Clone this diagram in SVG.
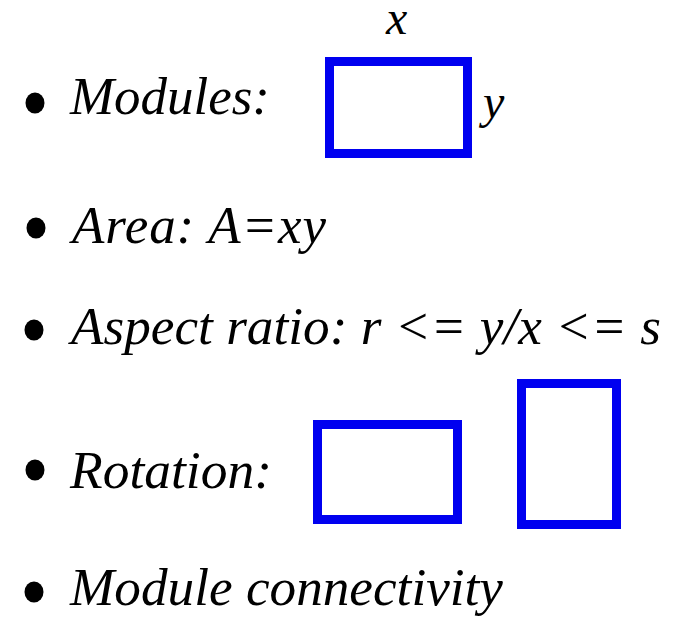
<svg xmlns="http://www.w3.org/2000/svg" width="675" height="620" viewBox="0 0 675 620">
<style>
.t{font-family:"Liberation Serif","Times New Roman",serif;font-style:italic;font-size:53px;fill:#000}
.l{font-family:"Liberation Serif","Times New Roman",serif;font-style:italic;font-size:48px;fill:#000}
.b{fill:#000}
.m{fill:#fff;stroke:#0000f0;stroke-width:9}
</style>
<rect width="675" height="620" fill="#fff"/>
<g id="item-modules">
<ellipse class="b" cx="35" cy="103" rx="9.5" ry="10.5"/>
<text class="t" x="70" y="114" textLength="200" lengthAdjust="spacingAndGlyphs">Modules:</text>
<rect id="module" class="m" x="329.5" y="61.5" width="138" height="92"/>
<text class="l" x="386" y="34">x</text>
<text class="l" x="483" y="118">y</text>
</g>
<g id="item-area">
<ellipse class="b" cx="36" cy="228" rx="9.5" ry="10.5"/>
<text class="t" x="72" y="243" textLength="254" lengthAdjust="spacing">Area: A=xy</text>
</g>
<g id="item-aspect">
<ellipse class="b" cx="34" cy="330" rx="9.5" ry="10.5"/>
<text class="t" x="71" y="344" textLength="590" lengthAdjust="spacingAndGlyphs">Aspect ratio: r &lt;= y/x &lt;= s</text>
</g>
<g id="item-rotation">
<ellipse class="b" cx="35" cy="470" rx="9.5" ry="10.5"/>
<text class="t" x="70" y="488" textLength="202" lengthAdjust="spacingAndGlyphs">Rotation:</text>
<rect id="rot-a" class="m" x="317.5" y="424.5" width="140" height="95"/>
<rect id="rot-b" class="m" x="521.5" y="383.5" width="95" height="141"/>
</g>
<g id="item-connectivity">
<ellipse class="b" cx="34" cy="592" rx="9.5" ry="10.5"/>
<text class="t" x="70" y="605" textLength="433" lengthAdjust="spacingAndGlyphs">Module connectivity</text>
</g>
<g id="connectors"/>
</svg>
